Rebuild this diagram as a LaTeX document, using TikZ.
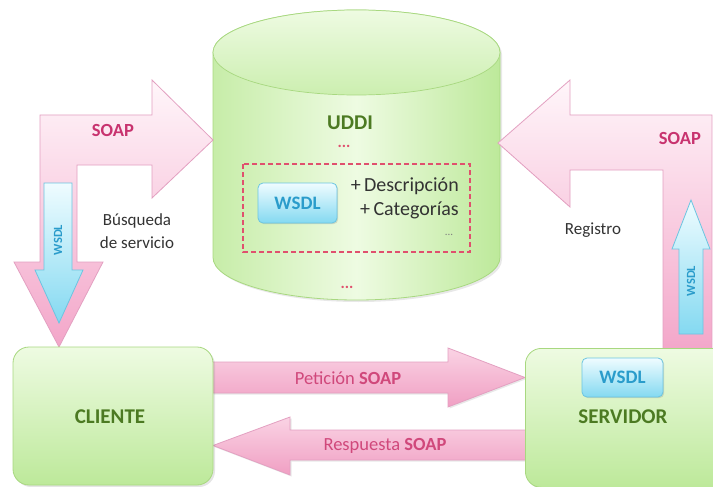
\documentclass[tikz,border=0pt]{standalone}
\usepackage{fontspec}
\setmainfont{Carlito}
\usetikzlibrary{shadows}
\definecolor{pinkline}{HTML}{E3A0C1}
\definecolor{pinklight}{HTML}{FFF6FA}
\definecolor{pinkdark}{HTML}{F3A6C9}
\definecolor{pinkbtop}{HTML}{FAD3E4}
\definecolor{pinkbbot}{HTML}{F09FC3}
\definecolor{greenline}{HTML}{A8D880}
\definecolor{greenlight}{HTML}{EEFBE2}
\definecolor{greendark}{HTML}{BDE99A}
\definecolor{greentext}{HTML}{4C7A22}
\definecolor{magtext}{HTML}{C8336F}
\definecolor{cyantext}{HTML}{2A9CCB}
\definecolor{blueline}{HTML}{6CC5E1}
\definecolor{bluelight}{HTML}{EFFCFF}
\definecolor{bluedark}{HTML}{84D9F1}
\definecolor{dashred}{HTML}{E0506E}
\definecolor{txtgrey}{HTML}{333333}
\begin{document}
\begin{tikzpicture}[x=1pt,y=-1pt,
  bentarrow/.style={draw=pinkline, line width=0.8pt, top color=pinklight, bottom color=pinkdark},
  flatarrow/.style={draw=pinkline, line width=0.8pt, top color=pinkbtop, bottom color=pinkbbot,
     drop shadow={opacity=0.18, shadow xshift=1.5pt, shadow yshift=-1.5pt}},
  bluearrow/.style={draw=blueline, line width=0.8pt, top color=bluelight, bottom color=bluedark},
  greenbox/.style={draw=greenline, line width=0.8pt, rounded corners=16pt, top color=greenlight, bottom color=greendark,
     drop shadow={opacity=0.2, shadow xshift=2pt, shadow yshift=-2pt}},
  wsdlbox/.style={draw=blueline, line width=0.8pt, rounded corners=5pt, top color=bluelight, bottom color=bluedark,
     drop shadow={opacity=0.25, shadow xshift=1.2pt, shadow yshift=-1.2pt}, inner sep=0pt,
     font=\fontsize{19}{21}\selectfont\bfseries, text=cyantext},
  nametext/.style={font=\fontsize{21}{24}\selectfont\bfseries, text=greentext, inner sep=0pt},
  soaptext/.style={font=\fontsize{18.5}{21}\selectfont\bfseries, text=magtext, inner sep=0pt},
  plaintext/.style={font=\fontsize{17}{23}\selectfont, text=txtgrey, inner sep=0pt, align=center},
  vwsdl/.style={font=\fontsize{12.5}{14}\selectfont\bfseries, text=cyantext, rotate=90, inner sep=0pt},
  msgtext/.style={font=\fontsize{18.5}{21}\selectfont, text=magtext!85!pink, inner sep=0pt},
  dots/.style={font=\fontsize{16}{18}\selectfont\bfseries, text=dashred, inner sep=0pt}
]
\useasboundingbox (0,0) rectangle (713,487);
\clip (0,0) rectangle (713,487);
\fill[white] (0,0) rectangle (713,487);

% UDDI cylinder
\path[draw=greenline, line width=0.8pt, left color=greendark!80!greenlight, right color=greendark, middle color=greenlight,
      drop shadow={opacity=0.18, shadow xshift=2pt, shadow yshift=-2pt}]
  (213,52.5) -- (213,257.5) arc[start angle=180,end angle=360,x radius=143.5pt,y radius=42.5pt]
  -- (500,52.5) arc[start angle=0,end angle=180,x radius=143.5pt,y radius=42.5pt] -- cycle;
\draw[greenline, line width=0.7pt, top color=greenlight, bottom color=greendark!70!greenlight]
  (356.5,52.5) ellipse[x radius=143.5pt, y radius=42.5pt];
\node[nametext] (uddi) at (350,123) {UDDI};
\node[dots] (dotsa) at (344,146) {...};
\draw[dashred, line width=1.2pt, dash pattern=on 5pt off 3pt] (243,164) rectangle (470,252);
\node[wsdlbox, minimum width=79pt, minimum height=40pt] (wsdlu) at (297.5,203) {WSDL};
\node[font=\fontsize{20}{22}\selectfont, text=txtgrey, inner sep=0pt, anchor=east] (desc) at (459,186) {+\,Descripción};
\node[font=\fontsize{20}{22}\selectfont, text=txtgrey, inner sep=0pt, anchor=east] (cat) at (459,210) {+\,Categorías};
\node[font=\fontsize{11}{12}\selectfont, text=gray, inner sep=0pt] (dotsb) at (449,235) {...};
\node[dots] (dotsc) at (347,287) {...};

% left bent arrow (Busqueda)
\path[bentarrow] (40,262) -- (40,115) -- (152,115) -- (152,80) -- (213,140) -- (152,198) -- (152,165)
  -- (77,165) -- (77,262) -- (103,262) -- (59,347) -- (14,262) -- cycle;
\path[bluearrow] (44,183) -- (72,183) -- (72,270) -- (83,270) -- (59,323) -- (35,270) -- (44,270) -- cycle;
\node[soaptext] (soapl) at (113,130) {SOAP};
\node[vwsdl] (wsdll) at (58,240) {WSDL};
\node[plaintext] (busq) at (137,231) {Búsqueda\\de servicio};

% right bent arrow (Registro)
\path[bentarrow] (663,352) -- (663,170) -- (570,170) -- (570,207) -- (498,143) -- (570,80) -- (570,115)
  -- (712,115) -- (712,352) -- cycle;
\path[bluearrow] (679,334) -- (679,249) -- (672,249) -- (691,200) -- (710,249) -- (703,249) -- (703,334) -- cycle;
\node[soaptext] (soapr) at (680,138) {SOAP};
\node[vwsdl] (wsdlr) at (691,281) {WSDL};
\node[plaintext] (reg) at (593,230) {Registro};

% bottom arrows
\path[flatarrow] (212,362) -- (448,362) -- (448,348) -- (525,377.5) -- (448,407) -- (448,393) -- (212,393) -- cycle;
\path[flatarrow] (527,430) -- (290,430) -- (290,417) -- (213,445.5) -- (290,475) -- (290,460) -- (527,460) -- cycle;
\node[msgtext] (pet) at (348,378) {Petición \textbf{SOAP}};
\node[msgtext] (resp) at (385,446) {Respuesta \textbf{SOAP}};

% client and server boxes
\node[greenbox, minimum width=200pt, minimum height=138pt] (cliente) at (113,416) {};
\node[nametext] (clientet) at (110,417) {CLIENTE};
\node[greenbox, minimum width=215pt, minimum height=139pt, anchor=north west] (servidor) at (525,348) {};
\node[wsdlbox, minimum width=81pt, minimum height=39pt] (wsdls) at (622.5,377.5) {WSDL};
\node[nametext] (servidort) at (623,417) {SERVIDOR};
\end{tikzpicture}
\end{document}
